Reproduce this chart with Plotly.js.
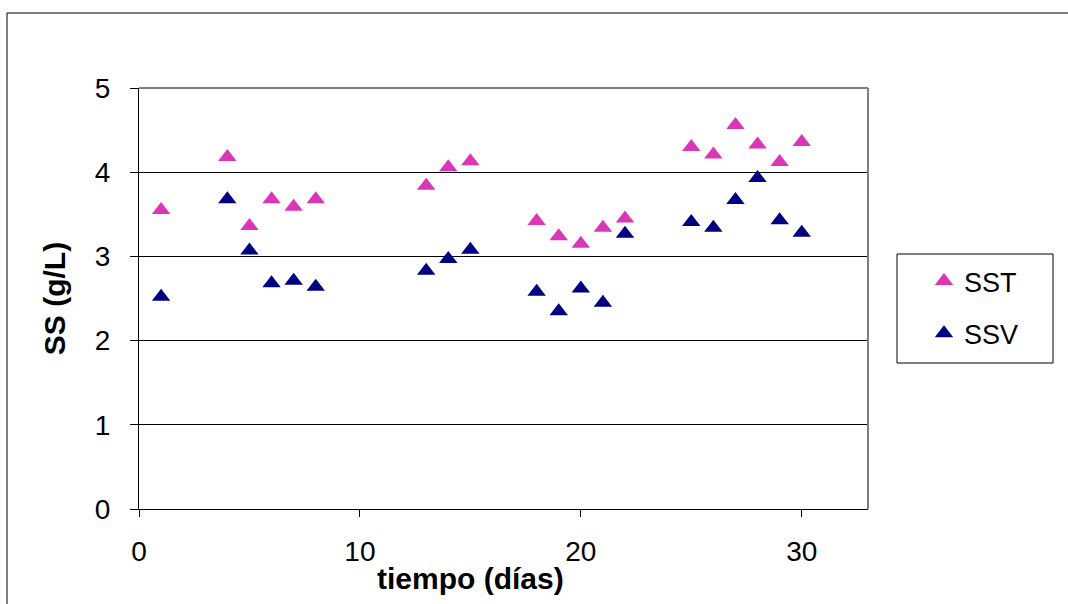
<!DOCTYPE html>
<html>
<head>
<meta charset="utf-8">
<script src="https://cdn.plot.ly/plotly-3.0.1.min.js"></script>
<style>
  html, body { margin: 0; padding: 0; background: #ffffff; }
  #chart { width: 1068px; height: 604px; }
</style>
</head>
<body>
<div id="chart"></div>
<script>
// Data
const dias = [1, 4, 5, 6, 7, 8, 13, 14, 15, 18, 19, 20, 21, 22, 25, 26, 27, 28, 29, 30];
const sst  = [3.55, 4.18, 3.36, 3.68, 3.59, 3.68, 3.84, 4.06, 4.13, 3.42, 3.24, 3.15, 3.34, 3.45, 4.30, 4.21, 4.56, 4.33, 4.12, 4.36];
const ssv  = [2.52, 3.68, 3.07, 2.68, 2.71, 2.64, 2.83, 2.97, 3.08, 2.58, 2.35, 2.62, 2.45, 3.27, 3.41, 3.34, 3.67, 3.93, 3.43, 3.28];
const seriesNames = ["SST", "SSV"];
const xTickVals = [0, 10, 20, 30];
const yTickVals = [0, 1, 2, 3, 4, 5];
const xTitle = "tiempo (días)";
const yTitle = "SS (g/L)";

const FONT = "Liberation Sans, Arial, sans-serif";

const traces = [
  {
    x: dias, y: sst, name: seriesNames[0], type: "scatter", mode: "markers",
    legendgroup: "a",
    marker: { symbol: "triangle-up", size: 16, color: "#DC36B8" }
  },
  {
    x: dias, y: ssv, name: seriesNames[1], type: "scatter", mode: "markers",
    legendgroup: "b",
    marker: { symbol: "triangle-up", size: 16, color: "#000080" }
  }
];

// plot area in px: left 139, right 868, top 88, bottom 509
const L = 139, R = 868, T = 88, B = 509;
const px = v => (v - L) / (R - L);
const py = v => (B - v) / (B - T);

const layout = {
  width: 1068, height: 604,
  margin: { l: L, r: 1068 - R, t: T, b: 604 - B },
  paper_bgcolor: "#ffffff",
  plot_bgcolor: "#ffffff",
  font: { family: FONT, color: "#000000", size: 27 },
  showlegend: true,
  legend: {
    x: px(924), y: py(257), xanchor: "left", yanchor: "top",
    bgcolor: "rgba(0,0,0,0)", borderwidth: 0,
    font: { family: FONT, size: 27, color: "#000000" },
    traceorder: "grouped", tracegroupgap: 14
  },
  xaxis: {
    range: [0, 33], tickvals: xTickVals, ticks: "outside", ticklen: 7,
    tickcolor: "#000000", tickwidth: 1,
    showline: true, linecolor: "#000000", linewidth: 1,
    showgrid: false, zeroline: false,
    tickfont: { family: FONT, size: 28, color: "#000000" },
    ticklabelstandoff: 10
  },
  yaxis: {
    range: [0, 5], tickvals: yTickVals, ticks: "outside", ticklen: 8,
    tickcolor: "#000000", tickwidth: 1,
    showline: true, linecolor: "#000000", linewidth: 1,
    showgrid: true, gridcolor: "#000000", gridwidth: 1,
    zeroline: false,
    tickfont: { family: FONT, size: 28, color: "#000000" },
    ticklabelstandoff: 14,
    title: { text: yTitle, font: { family: FONT, size: 30, weight: "bold", color: "#000000" }, standoff: 20 }
  },
  annotations: [
    { text: xTitle, xref: "paper", yref: "paper", x: px(470), y: py(578),
      xanchor: "center", yanchor: "middle", showarrow: false,
      font: { family: FONT, size: 30, weight: "bold", color: "#000000" } }
  ],
  shapes: [
    // outer chart frame
    { type: "rect", xref: "paper", yref: "paper", x0: px(7), x1: px(1075), y0: py(612), y1: py(13),
      line: { color: "#000000", width: 1 }, fillcolor: "rgba(0,0,0,0)", layer: "below" },
    // plot area top and right edges (gray)
    { type: "line", xref: "paper", yref: "paper", x0: 0, x1: 1, y0: 1, y1: 1,
      line: { color: "#808080", width: 2 }, layer: "above" },
    { type: "line", xref: "paper", yref: "paper", x0: 1, x1: 1, y0: 0, y1: 1,
      line: { color: "#808080", width: 2 }, layer: "above" },
    // legend box
    { type: "rect", xref: "paper", yref: "paper", x0: px(897), x1: px(1053), y0: py(363), y1: py(254),
      line: { color: "#000000", width: 1 }, fillcolor: "rgba(0,0,0,0)", layer: "above" }
  ]
};

Plotly.newPlot("chart", traces, layout, { displayModeBar: false, staticPlot: true });
</script>
</body>
</html>
